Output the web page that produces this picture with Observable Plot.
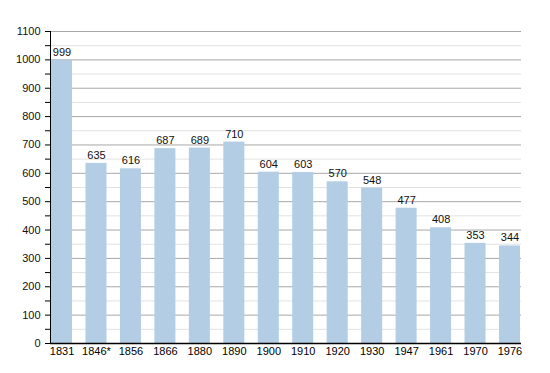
<!DOCTYPE html>
<html><head><meta charset="utf-8">
<script src="https://cdn.jsdelivr.net/npm/d3@7"></script>
<script src="https://cdn.jsdelivr.net/npm/@observablehq/plot@0.6"></script>
<style>body{margin:0;background:#fff;font-family:"Liberation Sans",Arial,sans-serif;}</style>
</head><body><div id="chart"></div>
<script>
const years = ["1831","1846*","1856","1866","1880","1890","1900","1910","1920","1930","1947","1961","1970","1976"];
const population = [999,635,616,687,689,710,604,603,570,548,477,408,353,344];
const majorTicks = [0,100,200,300,400,500,600,700,800,900,1000,1100];
const minorTicks = [50,150,250,350,450,550,650,750,850,950,1050];
const data = years.map((y,i)=>({year:y, value:population[i]}));
const chart = Plot.plot({
  width: 550, height: 373,
  marginLeft: 50, marginRight: 29, marginTop: 31, marginBottom: 30,
  style: {fontFamily: '"Liberation Sans",Arial,sans-serif', fontSize: "11px", color: "#000", background: "#fff"},
  x: {domain: years, range: [51, 520], round: false, paddingInner: 0.39, paddingOuter: 0.0, label: null, tickSize: 0, tickPadding: 4},
  y: {domain: [0,1100], label: null, ticks: [], tickSize: 0},
  marks: [
    Plot.ruleY(minorTicks, {stroke: "#e2e2e2", strokeWidth: 1}),
    Plot.ruleY(majorTicks, {stroke: "#a8a8a8", strokeWidth: 1}),
    Plot.barY(data, {x: "year", y: "value", fill: "#b3cde4"}),
    Plot.text(data, {x: "year", y: "value", text: d => String(d.value), dy: -8, fontSize: 11, fill: "#111"}),
    Plot.axisY(majorTicks, {tickSize: 5, tickPadding: 5, fontSize: 11, stroke: "#000", fill: "#111", label: null, tickFormat: d => String(d)}),
    Plot.axisY(minorTicks, {tickSize: 5, stroke: "#000", label: null, tickFormat: () => ""}),
    Plot.ruleX([0], {x: () => years[0], stroke: "#000", render: (i,s,v,d)=>{
      const g = d3.create("svg:g");
      g.append("line").attr("x1",50.5).attr("x2",50.5).attr("y1",31).attr("y2",343).attr("stroke","#000");
      return g.node(); }}),
    Plot.ruleY([0], {stroke: "#000", strokeWidth: 1.5})
  ]
});
document.getElementById("chart").append(chart);
</script></body></html>
